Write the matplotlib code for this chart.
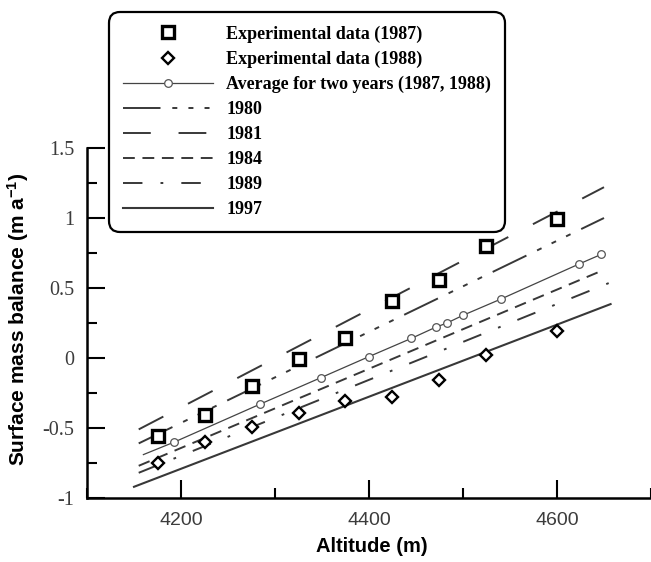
import matplotlib
matplotlib.use('Agg')
import matplotlib.pyplot as plt
from matplotlib.ticker import MultipleLocator, FuncFormatter

plt.rcParams['lines.scale_dashes'] = False
plt.rcParams['axes.unicode_minus'] = False
plt.rcParams['mathtext.default'] = 'regular'

# Experimental data (altitude in m, surface mass balance in m/a)
exp_alt = [4175, 4225, 4275, 4325, 4375, 4425, 4475, 4525, 4600]
exp_1987 = [-0.56, -0.41, -0.20, -0.01, 0.14, 0.41, 0.56, 0.80, 0.99]
exp_1988 = [-0.75, -0.60, -0.49, -0.39, -0.31, -0.28, -0.16, 0.02, 0.19]

# Average of the two years (first point is the line start, no marker)
avg_alt = [4160, 4193, 4284, 4349, 4400, 4445, 4471, 4483, 4500, 4540, 4623, 4647]
avg_smb = [-0.69, -0.60, -0.33, -0.14, 0.01, 0.14, 0.22, 0.25, 0.305, 0.42, 0.67, 0.74]

# Modelled balance gradients for single years (end points of each line)
alt_1980, smb_1980 = [4155, 4650], [-0.61, 1.00]
alt_1981, smb_1981 = [4155, 4650], [-0.51, 1.22]
alt_1984, smb_1984 = [4155, 4650], [-0.77, 0.63]
alt_1989, smb_1989 = [4155, 4655], [-0.82, 0.535]
alt_1997, smb_1997 = [4150, 4657], [-0.92, 0.385]

line_col = '#383838'

fig = plt.figure(figsize=(6.51, 5.62), dpi=100)
ax = fig.add_axes([87 / 651, 64 / 562, 564 / 651, 350 / 562])

h_sq, = ax.plot(exp_alt, exp_1987, linestyle='none', marker='s', ms=8,
                mfc='white', mec='black', mew=2.4, zorder=5)
h_di, = ax.plot(exp_alt, exp_1988, linestyle='none', marker='D', ms=6,
                mfc='white', mec='black', mew=1.7, zorder=5)
h_avg, = ax.plot(avg_alt, avg_smb, color='#444444', lw=0.9, marker='o', ms=5.5,
                 mfc='white', mec='#555555', mew=0.9,
                 markevery=list(range(1, len(avg_alt))), zorder=4)
h80, = ax.plot(alt_1980, smb_1980, color=line_col, lw=1.4,
               linestyle=(0, (27, 8.5, 3.6, 8, 3.6, 8, 3.6, 8.5)))
h81, = ax.plot(alt_1981, smb_1981, color=line_col, lw=1.4,
               linestyle=(0, (20, 20)))
h84, = ax.plot(alt_1984, smb_1984, color=line_col, lw=1.4,
               linestyle=(0, (8.5, 5.5)))
h89, = ax.plot(alt_1989, smb_1989, color=line_col, lw=1.4,
               linestyle=(0, (14, 13, 2, 13)))
h97, = ax.plot(alt_1997, smb_1997, color=line_col, lw=1.5, linestyle='-')

ax.set_xlim(4100, 4700)
ax.set_ylim(-1, 1.5)
for side in ['top', 'right']:
    ax.spines[side].set_visible(False)
for side in ['left', 'bottom']:
    ax.spines[side].set_linewidth(1.8)

ax.xaxis.set_major_locator(MultipleLocator(200))
ax.xaxis.set_minor_locator(MultipleLocator(100))
ax.yaxis.set_major_locator(MultipleLocator(0.5))
ax.yaxis.set_minor_locator(MultipleLocator(0.25))
ax.yaxis.set_major_formatter(FuncFormatter(lambda v, p: f'{v:g}'))
ax.tick_params(which='both', direction='in', width=1.5, color='black')
ax.tick_params(which='major', length=13)
ax.tick_params(which='minor', length=7)
ax.tick_params(axis='x', labelsize=14, labelcolor='#3c3c3c', pad=10,
               labelfontfamily='Liberation Sans')
ax.tick_params(axis='y', labelsize=14.5, labelcolor='#3c3c3c', pad=9,
               labelfontfamily='Liberation Serif')

ax.set_xlabel('Altitude (m)', fontsize=14.5, fontweight='bold',
              family='Liberation Sans')
ax.set_ylabel('Surface mass balance (m a$^{-1}$)', fontsize=15,
              fontweight='bold', family='Liberation Sans')
ax.xaxis.set_label_coords(0.505, -0.11)
ax.yaxis.set_label_coords(-0.10, 0.51)

handles = [h_sq, h_di, h_avg, h80, h81, h84, h89, h97]
labels = ['Experimental data (1987)', 'Experimental data (1988)',
          'Average for two years (1987, 1988)', '1980', '1981', '1984',
          '1989', '1997']
leg = fig.legend(handles, labels, loc='upper left',
                 bbox_to_anchor=(109 / 651, 1 - 12 / 562), borderaxespad=0,
                 prop=dict(family='Liberation Serif', weight='bold', size=13),
                 handlelength=5.0, handletextpad=0.75, labelspacing=0.44,
                 borderpad=0.75, numpoints=1, frameon=True, fancybox=True,
                 edgecolor='black', facecolor='white', framealpha=1)
leg.get_frame().set_linewidth(1.6)
leg.get_frame().set_boxstyle('round,pad=0,rounding_size=0.6')

fig.savefig('out.png', dpi=100)
